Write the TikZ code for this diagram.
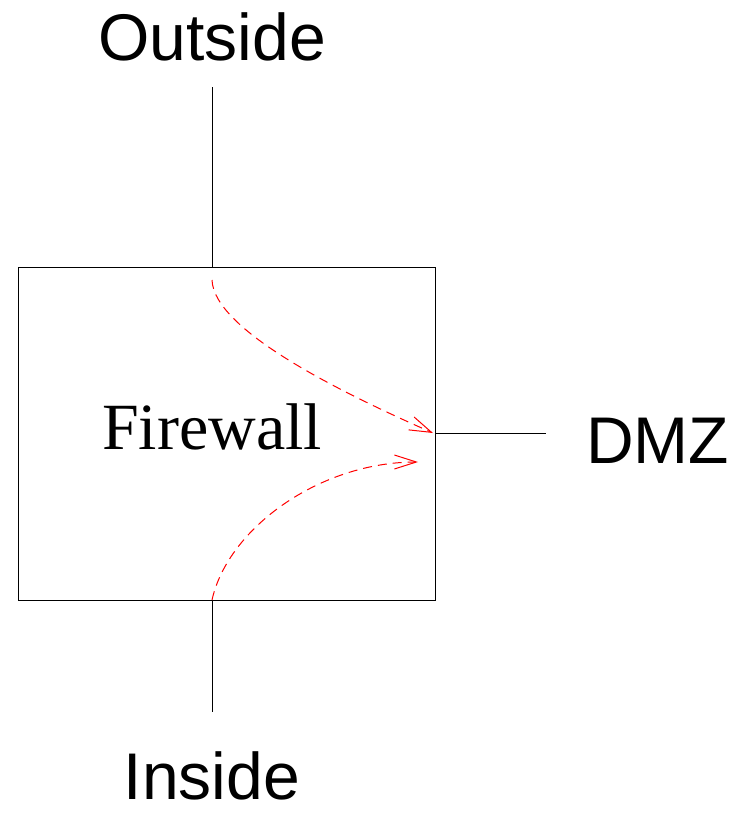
\documentclass[tikz,border=0pt]{standalone}
\usepackage{fontspec}
\setmainfont{Liberation Serif}
\setsansfont{Liberation Sans}
\usetikzlibrary{arrows.meta}
\begin{document}
\begin{tikzpicture}[x=1pt,y=-1pt,
  lab/.style={font=\sffamily\fontsize{66}{70}\selectfont, inner sep=0pt, anchor=base},
  wire/.style={line width=1pt, black},
  flow/.style={red, line width=1pt, dash pattern=on 9pt off 6pt, -{Straight Barb[length=22pt,width=14pt,line width=1pt]}}]
\useasboundingbox (0,0) rectangle (731,814);
\node[draw, line width=1pt, minimum width=417pt, minimum height=333pt, inner sep=0pt, anchor=north west] (fw) at (18,267) {};
\node[font=\fontsize{66}{70}\selectfont, inner sep=0pt, anchor=base] (fwl) at (212,449) {Firewall};
\node[lab] (out) at (212,60) {Outside};
\node[lab] (in) at (212,799) {Inside};
\node[lab, anchor=base west] (dmz) at (586,463) {DMZ};
\coordinate (outend) at (212,87);
\coordinate (inend) at (212,712);
\coordinate (dmzend) at (546,433);
\coordinate (top) at (212,267);
\coordinate (bot) at (212,600);
\coordinate (right) at (435,433);
\draw[wire] (outend) -- (top);
\draw[wire] (bot) -- (inend);
\draw[wire] (right) -- (dmzend);
\coordinate (s1) at (212,280);
\coordinate (e1) at (433,433);
\coordinate (e2) at (418,462);
\draw[flow] (s1) .. controls (214,330) and (340,392) .. (e1);
\draw[flow] (bot) .. controls (228,528) and (320,462) .. (e2);
\end{tikzpicture}
\end{document}
